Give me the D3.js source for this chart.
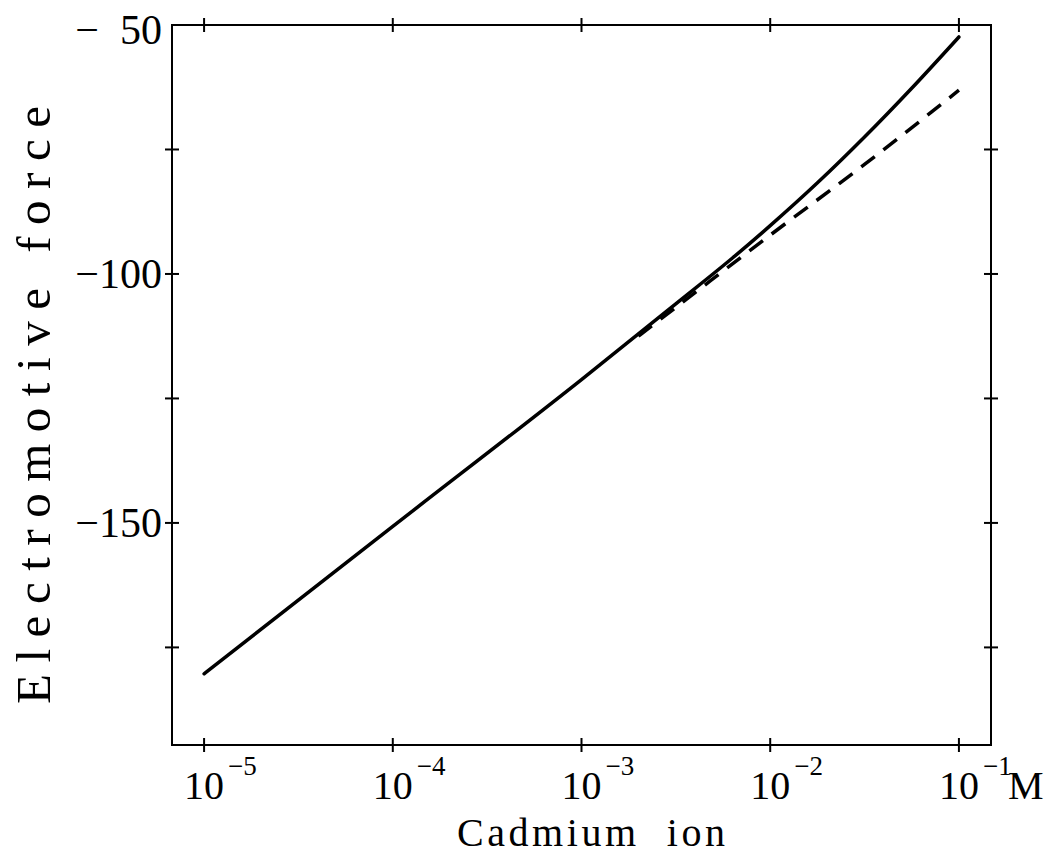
<!DOCTYPE html>
<html>
<head>
<meta charset="utf-8">
<script src="https://cdn.jsdelivr.net/npm/d3@7"></script>
<style>
  html, body { margin: 0; padding: 0; background: #fff; }
  svg { display: block; }
  text { font-family: "Liberation Serif", "DejaVu Serif", serif; fill: #000; }
</style>
</head>
<body>
<svg id="chart" width="1058" height="855"></svg>
<script>
// ---- data ----
const xTickValues = [1e-5, 1e-4, 1e-3, 1e-2, 1e-1];
const xTickExponents = ["−5", "−4", "−3", "−2", "−1"];
const xUnit = "M";
const yMajorTicks = [-50, -100, -150];
const yMajorLabels = ["−  50", "−100", "−150"];
const yMinorTicks = [-75, -125, -175];
const xTitle = "Cadmium  ion";
const yTitle = "Electromotive force";

// solid curve (measured)
const solidX = [1e-5, 1e-4, 1e-3, 3.16e-3, 6.31e-3, 1e-2, 1.78e-2, 3.16e-2, 5.62e-2, 1e-1];
const solidY = [-180.3, -150.7, -121.2, -106.0, -96.8, -90.3, -81.7, -72.5, -62.7, -52.4];
// dashed curve
const dashedX = [2e-3, 3.98e-3, 1e-2, 3.16e-2, 1e-1];
const dashedY = [-112.5, -103.8, -92.2, -78.0, -63.1];

// ---- layout ----
const pL = 172, pR = 991, pT = 25, pB = 745;
const svg = d3.select("#chart");

const x = d3.scaleLog().domain([Math.pow(10, -5.17), Math.pow(10, -0.83)]).range([pL, pR]);
const y = d3.scaleLinear().domain([-194.6, -50]).range([pB, pT]);

// frame
svg.append("rect")
  .attr("x", pL).attr("y", pT)
  .attr("width", pR - pL).attr("height", pB - pT)
  .attr("fill", "none").attr("stroke", "#000").attr("stroke-width", 2);

const tk = 7;
// x ticks bottom & top
xTickValues.forEach(v => {
  svg.append("line").attr("x1", x(v)).attr("x2", x(v))
    .attr("y1", pB - tk).attr("y2", pB + tk)
    .attr("stroke", "#000").attr("stroke-width", 2);
  svg.append("line").attr("x1", x(v)).attr("x2", x(v))
    .attr("y1", pT - tk).attr("y2", pT + tk)
    .attr("stroke", "#000").attr("stroke-width", 2);
});
// y ticks left & right
yMajorTicks.concat(yMinorTicks).forEach(v => {
  if (v === -50) return;
  svg.append("line").attr("x1", pL - tk).attr("x2", pL + tk)
    .attr("y1", y(v)).attr("y2", y(v))
    .attr("stroke", "#000").attr("stroke-width", 2);
  svg.append("line").attr("x1", pR - tk).attr("x2", pR + tk)
    .attr("y1", y(v)).attr("y2", y(v))
    .attr("stroke", "#000").attr("stroke-width", 2);
});

// y labels
yMajorTicks.forEach((v, i) => {
  svg.append("text")
    .attr("x", pL - 10).attr("y", y(v) + (v === -50 ? 19 : 14))
    .attr("text-anchor", "end")
    .attr("font-size", 42)
    .style("white-space", "pre")
    .text(yMajorLabels[i]);
});

// x labels
xTickValues.forEach((v, i) => {
  const base = svg.append("text")
    .attr("x", x(v)).attr("y", 799)
    .attr("text-anchor", "middle")
    .attr("font-size", 40)
    .text("10");
  const bb = base.node().getBBox();
  svg.append("text")
    .attr("x", bb.x + bb.width + 4).attr("y", 775)
    .attr("font-size", 27)
    .text(xTickExponents[i]);
  if (i === xTickValues.length - 1) {
    svg.append("text")
      .attr("x", bb.x + bb.width + 29).attr("y", 799)
      .attr("font-size", 40)
      .text(xUnit);
  }
});

// axis titles
svg.append("text")
  .attr("x", 591).attr("y", 846)
  .attr("text-anchor", "middle")
  .attr("font-size", 40)
  .style("white-space", "pre")
  .attr("textLength", 268).attr("lengthAdjust", "spacing")
  .text(xTitle);

svg.append("text")
  .attr("transform", "translate(50,405) rotate(-90)")
  .attr("text-anchor", "middle")
  .attr("font-size", 49)
  .attr("textLength", 598).attr("lengthAdjust", "spacing")
  .text(yTitle);

// curves
const line = d3.line().x(d => x(d[0])).y(d => y(d[1])).curve(d3.curveMonotoneX);
svg.append("path")
  .datum(solidX.map((v, i) => [v, solidY[i]]))
  .attr("d", line)
  .attr("fill", "none").attr("stroke", "#000").attr("stroke-width", 3.5)
  .attr("stroke-linecap", "round");
svg.append("path")
  .datum(dashedX.map((v, i) => [v, dashedY[i]]))
  .attr("d", line)
  .attr("fill", "none").attr("stroke", "#000").attr("stroke-width", 3.5)
  .attr("stroke-dasharray", "17,11");
</script>
</body>
</html>
